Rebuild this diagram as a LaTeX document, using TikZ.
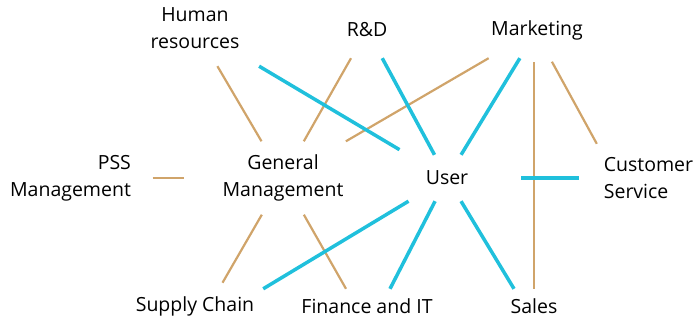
\documentclass[tikz,border=0pt]{standalone}
\usepackage{fontspec}
\setmainfont{Open Sans}
\definecolor{tanline}{RGB}{208,164,106}
\definecolor{cyanline}{RGB}{32,192,220}
\tikzset{
    dept/.style={inner sep=0pt, font=\fontsize{19.5}{27}\selectfont},
    tanlink/.style={draw=tanline, line width=2.2pt},
    cyanlink/.style={draw=cyanline, line width=3.5pt}
}

\begin{document}
\begin{tikzpicture}[x=1pt,y=-1pt]
        \useasboundingbox (0,0) rectangle (696,323);
        
        \node[dept, align=center, minimum width=140pt, minimum height=76pt] (hr) at (195,28) {Human\\resources};
        \node[dept, minimum width=60pt, minimum height=56pt] (rd) at (367,30) {R\&D};
        \node[dept, minimum width=100pt, minimum height=56pt] (mkt) at (537,30) {Marketing};
        
        \node[dept, align=right, minimum width=164pt, minimum height=50pt] (pss) at (70.5,178) {PSS\\Management};
        \node[dept, align=center, minimum width=198pt, minimum height=73pt] (gm) at (283,178) {General\\Management};
        \node[dept, minimum width=148pt, minimum height=46pt] (user) at (447,178) {User};
        \node[dept, align=left, minimum width=139pt, minimum height=68pt] (cs) at (648.5,178) {Customer\\Service};
        
        \node[dept, minimum width=136pt, minimum height=34pt] (sc) at (195,306) {Supply Chain};
        \node[dept, minimum height=34pt] (fin) at (367,306) {Finance and IT};
        \node[dept, minimum height=34pt] (sales) at (534,306) {Sales};
        
        % tan links
        \draw[tanlink] (hr) -- (gm);
        \draw[tanlink] (rd) -- (gm);
        \draw[tanlink] (mkt) -- (gm);
        \draw[tanlink] (pss) -- (gm);
        \draw[tanlink, shorten <=4pt] (sales.north |- mkt.south) -- (sales.north);
        \draw[tanlink, shorten <=4pt] ([xshift=13pt]mkt.south) -- ([xshift=18pt]cs.north west);
        \draw[tanlink, shorten >=7pt] (gm) -- ([xshift=24pt]sc.north);
        \draw[tanlink] (gm) -- ([xshift=-21pt]fin.north);
        
        % cyan links
        \draw[cyanlink, shorten >=10pt] (hr) -- (user);
        \draw[cyanlink] (rd) -- (user);
        \draw[cyanlink] (mkt) -- (user);
        \draw[cyanlink] (user) -- (cs);
        \draw[cyanlink] (user) -- (sc.north east);
        \draw[cyanlink] (user) -- ([xshift=23pt]fin.north);
        \draw[cyanlink] (user) -- ([xshift=-20pt]sales.north);
        
    \end{tikzpicture}
\end{document}
